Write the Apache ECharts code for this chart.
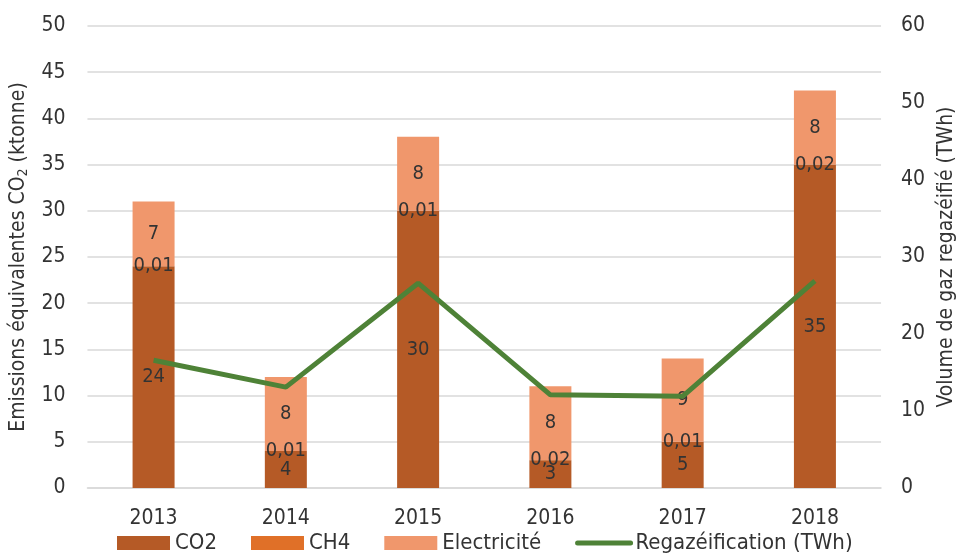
<!DOCTYPE html>
<html>
<head>
<meta charset="utf-8">
<script src="https://cdn.jsdelivr.net/npm/echarts@6/dist/echarts.min.js"></script>
<style>
  html, body { margin: 0; padding: 0; background: #fff; }
  #main { width: 965px; height: 557px; }
</style>
</head>
<body>
<div id="main"></div>
<script>
const years = ['2013', '2014', '2015', '2016', '2017', '2018'];
const co2 = [24, 4, 30, 3, 5, 35];
const ch4 = [0.01, 0.01, 0.01, 0.02, 0.01, 0.02];
const electricite = [7, 8, 8, 8, 9, 8];
const regazeification = [16.6, 13.1, 26.6, 12.1, 11.9, 26.9];

const chart = echarts.init(document.getElementById('main'));
const font = '"DejaVu Sans Condensed", Roboto, sans-serif';

// étiquettes au format français (virgule)
const labelFmt = (p) => String(p.value).replace('.', ',');
const barLabel = {
  show: true,
  position: 'inside',
  color: '#333',
  fontFamily: font,
  fontSize: 20,
  formatter: labelFmt
};

const option = {
  textStyle: { fontFamily: font },
  grid: { left: 85, right: 78, top: 26, bottom: 69 },
  legend: {
    bottom: -2,
    left: 112,
    itemWidth: 53,
    itemHeight: 14,
    itemGap: 34,
    textStyle: { fontSize: 22, color: '#333', fontFamily: font },
    data: [
      { name: 'CO2', icon: 'rect' },
      { name: 'CH4', icon: 'rect' },
      { name: 'Electricité', icon: 'rect' },
      {
        name: 'Regazéification (TWh)',
        itemStyle: { opacity: 0 },
        lineStyle: { width: 5, color: '#4E8237', cap: 'round' }
      }
    ]
  },
  xAxis: {
    type: 'category',
    data: years,
    axisTick: { show: false },
    axisLine: { lineStyle: { color: '#d9d9d9', width: 1.5 } },
    axisLabel: { color: '#333', fontSize: 21, margin: 20 }
  },
  yAxis: [
    {
      type: 'value',
      min: 0, max: 50, interval: 5,
      name: '{a|Emissions équivalentes CO}{s|2}{a| (ktonne)}',
      nameLocation: 'middle',
      nameGap: 52,
      nameTextStyle: {
        rich: {
          a: { fontSize: 21, color: '#333', fontFamily: font },
          s: { fontSize: 14, color: '#333', fontFamily: font, padding: [10, 0, 0, 0] }
        }
      },
      axisLabel: { color: '#333', fontSize: 21, margin: 22 },
      splitLine: { lineStyle: { color: '#d9d9d9', width: 1.5 } }
    },
    {
      type: 'value',
      min: 0, max: 60, interval: 10,
      name: 'Volume de gaz regazéifié (TWh)',
      nameLocation: 'middle',
      nameGap: 50,
      nameRotate: 90,
      nameTextStyle: { fontSize: 21, color: '#333' },
      axisLabel: { color: '#333', fontSize: 21, margin: 20 },
      splitLine: { show: false }
    }
  ],
  series: [
    {
      name: 'CO2', type: 'bar', stack: 'tot', data: co2, barWidth: 42,
      itemStyle: { color: '#B55A26' }, label: barLabel
    },
    {
      name: 'CH4', type: 'bar', stack: 'tot', data: ch4,
      itemStyle: { color: '#E07028' }, label: barLabel
    },
    {
      name: 'Electricité', type: 'bar', stack: 'tot', data: electricite,
      itemStyle: { color: '#F0976C' }, label: barLabel
    },
    {
      name: 'Regazéification (TWh)', type: 'line', yAxisIndex: 1,
      data: regazeification, symbol: 'none',
      lineStyle: { color: '#4E8237', width: 5 },
      itemStyle: { color: '#4E8237' }
    }
  ]
};

chart.setOption(option);
</script>
</body>
</html>
